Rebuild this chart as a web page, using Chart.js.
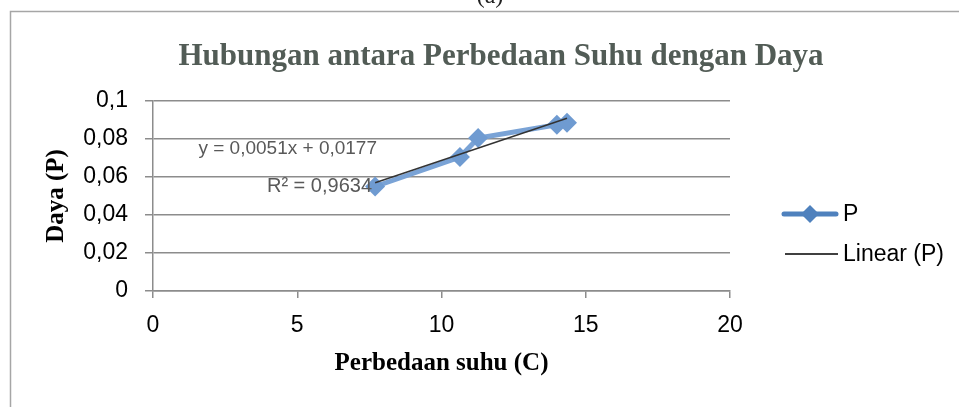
<!DOCTYPE html>
<html>
<head>
<meta charset="utf-8">
<script src="https://cdn.jsdelivr.net/npm/chart.js@4.4.0/dist/chart.umd.min.js"></script>
<style>
  html, body { margin: 0; padding: 0; background: #ffffff; }
  #wrap { width: 959px; height: 407px; position: relative; }
</style>
</head>
<body>
<div id="wrap"><canvas id="c" width="959" height="407"></canvas></div>
<script>
// ---- data ----
const suhu = [7.7, 10.64, 11.27, 14.0, 14.35];        // Perbedaan suhu (C)
const daya = [0.055, 0.0705, 0.0805, 0.0875, 0.0885]; // Daya (P)
const trendSlope = [0.0051];
const trendIntercept = [0.0177];
const rSquared = ['0,9634'];
const xTicks = [0, 5, 10, 15, 20];
const yTicks = [0, 0.02, 0.04, 0.06, 0.08, 0.1];
const yTickLabels = ['0', '0,02', '0,04', '0,06', '0,08', '0,1'];
const chartTitle = 'Hubungan antara Perbedaan Suhu dengan Daya';
const xTitle = 'Perbedaan suhu (C)';
const yTitle = 'Daya (P)';
const seriesNames = ['P', 'Linear (P)'];
const equationText = 'y = 0,0051x + 0,0177';

// ---- derived ----
const pts = suhu.map((x, i) => ({x: x, y: daya[i]}));
const xmin = Math.min(...suhu), xmax = Math.max(...suhu);
const trend = [xmin, xmax].map(x => ({x: x, y: trendSlope[0] * x + trendIntercept[0]}));

const BLUE = '#7aa3d6';
const BLUE_DARK = '#4f81bd';
const GRID = '#8c8c8c';
const SANS = '"Liberation Sans", Arial, sans-serif';
const SERIF = '"Liberation Serif", "Times New Roman", serif';

const decor = {
  id: 'decor',
  beforeDraw(chart) {
    const ctx = chart.ctx;
    ctx.save();
    ctx.fillStyle = '#ffffff';
    ctx.fillRect(0, 0, chart.width, chart.height);
    // frame
    ctx.strokeStyle = '#a6a6a6';
    ctx.lineWidth = 1.5;
    ctx.beginPath();
    ctx.moveTo(chart.width, 11.5);
    ctx.lineTo(10.5, 11.5);
    ctx.lineTo(10.5, chart.height);
    ctx.stroke();
    // "(a)" clipped caption
    ctx.fillStyle = '#222';
    ctx.font = '24px ' + SERIF;
    ctx.textAlign = 'center';
    ctx.textBaseline = 'alphabetic';
    ctx.fillText('(a)', 490, 3);
    ctx.restore();
  },
  afterDraw(chart) {
    const ctx = chart.ctx;
    const a = chart.chartArea;
    ctx.save();
    // title
    ctx.fillStyle = '#525c56';
    ctx.font = 'bold 31px ' + SERIF;
    ctx.textAlign = 'center';
    ctx.textBaseline = 'middle';
    ctx.fillText(chartTitle, 501, 57);
    // equation
    ctx.fillStyle = '#595959';
    ctx.font = '19px ' + SANS;
    ctx.textAlign = 'right';
    ctx.fillText(equationText, a.left + 224, 149);
    ctx.font = '20px ' + SANS;
    ctx.fillText('R\u00B2 = ' + rSquared[0], a.left + 219, 186);
    // legend
    const lx0 = a.right + 52, lx1 = a.right + 108, tx = a.right + 113;
    const y1 = 214, y2 = 254;
    ctx.strokeStyle = BLUE_DARK;
    ctx.lineWidth = 5;
    ctx.lineCap = 'round';
    ctx.beginPath(); ctx.moveTo(lx0 + 2, y1); ctx.lineTo(lx1 - 2, y1); ctx.stroke();
    ctx.fillStyle = BLUE_DARK;
    ctx.beginPath();
    const cx = (lx0 + lx1) / 2;
    ctx.moveTo(cx, y1 - 9); ctx.lineTo(cx + 9, y1); ctx.lineTo(cx, y1 + 9); ctx.lineTo(cx - 9, y1); ctx.closePath();
    ctx.fill();
    ctx.strokeStyle = '#000';
    ctx.lineWidth = 1.5;
    ctx.lineCap = 'butt';
    ctx.beginPath(); ctx.moveTo(lx0 + 3, y2); ctx.lineTo(lx1, y2); ctx.stroke();
    ctx.fillStyle = '#000';
    ctx.font = '23px ' + SANS;
    ctx.textAlign = 'left';
    ctx.fillText(seriesNames[0], tx, y1 + 1);
    ctx.fillText(seriesNames[1], tx, y2 + 1);
    ctx.restore();
  }
};

new Chart(document.getElementById('c'), {
  type: 'scatter',
  data: {
    datasets: [
      {
        label: seriesNames[0],
        data: pts,
        showLine: true,
        borderColor: BLUE,
        borderWidth: 5,
        backgroundColor: '#6f9bd1',
        pointStyle: 'rectRot',
        pointRadius: 10,
        pointHoverRadius: 10,
        pointBorderWidth: 0,
        order: 2
      },
      {
        label: seriesNames[1],
        data: trend,
        showLine: true,
        borderColor: '#333333',
        borderWidth: 1.5,
        pointRadius: 0,
        order: 1
      }
    ]
  },
  options: {
    responsive: false,
    animation: false,
    events: [],
    layout: { padding: { left: 0, right: 229, top: 101, bottom: 0 } },
    plugins: { legend: { display: false }, tooltip: { enabled: false }, title: { display: false } },
    scales: {
      x: {
        type: 'linear',
        min: 0, max: 20,
        afterFit(s) { s.height = 116; },
        afterBuildTicks(s) { s.ticks = xTicks.map(v => ({value: v})); },
        ticks: { color: '#000', font: { family: SANS, size: 23 }, padding: 14,
                 callback: v => String(v) },
        grid: { drawOnChartArea: false, drawTicks: true, tickLength: 7, color: GRID, lineWidth: 1.5 },
        border: { color: GRID, width: 1.5 },
        title: { display: true, text: xTitle, color: '#000',
                 font: { family: SERIF, size: 25, weight: 'bold' }, padding: { top: 0, bottom: 28 } }
      },
      y: {
        type: 'linear',
        min: 0, max: 0.1,
        afterFit(s) { s.width = 153; },
        afterBuildTicks(s) { s.ticks = yTicks.map(v => ({value: v})); },
        ticks: { color: '#000', font: { family: SANS, size: 23 }, padding: 17,
                 callback: (v, i) => yTickLabels[i] },
        grid: { color: GRID, lineWidth: 1.5, drawTicks: true, tickLength: 8 },
        border: { color: GRID, width: 1.5 },
        title: { display: true, text: yTitle, color: '#000',
                 font: { family: SERIF, size: 25, weight: 'bold' }, padding: { top: 42, bottom: 0 } }
      }
    }
  },
  plugins: [decor]
});
</script>
</body>
</html>
